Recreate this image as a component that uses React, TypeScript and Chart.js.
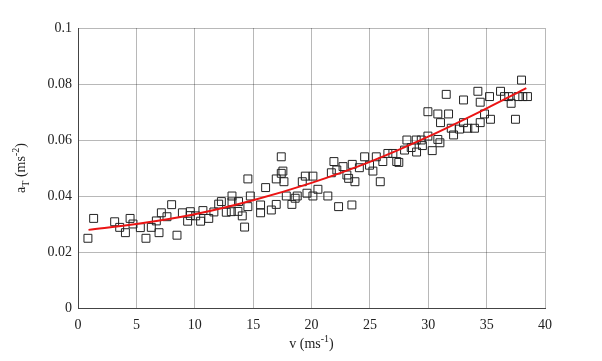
import { useEffect, useRef } from "react";
import { Chart, registerables } from "chart.js";

Chart.register(...registerables);

// Measured speed (ms^-1)
const speed = [
  0.85, 1.34, 3.14, 3.57, 4.06, 4.46, 4.71, 5.34, 5.82, 6.28, 6.71, 6.94, 7.14, 7.62, 8.02, 8.48, 8.94, 9.39,
  9.62, 9.62, 10.08, 10.5, 10.7, 11.2, 11.64, 12.05, 12.28, 12.7, 13.19, 13.19, 13.13,
  13.75, 13.7, 14.07, 14.27, 14.55, 14.55, 14.76, 15.64, 15.64, 16.07, 16.56, 16.98, 16.98, 17.41, 17.41,
  17.55, 17.64, 17.84, 18.32, 18.6, 18.78, 19.21, 19.47, 19.61, 20.12, 20.12, 20.55, 21.4, 21.7, 21.92,
  22.32, 22.17, 22.7, 23.03, 23.18, 23.46, 23.49, 23.72, 24.1, 24.55, 24.97, 25.26, 25.55, 25.89, 26.11,
  26.54, 26.97, 27.3, 27.48, 27.97, 28.17, 28.54, 28.97, 29.0, 29.4, 29.5, 29.97, 29.97, 30.34, 30.82,
  30.82, 31.05, 31.0, 31.54, 31.74, 31.97, 32.17, 32.68, 33.02, 33.02, 33.39, 33.96, 34.25, 34.45, 34.45,
  34.82, 35.25, 35.33, 36.19, 36.53, 36.9, 37.1, 37.47, 37.7, 37.99, 38.1, 38.5,
];

// Measured tangential acceleration (ms^-2)
const accel = [
  0.0249, 0.032, 0.0308, 0.0288, 0.0269, 0.032, 0.03, 0.0287, 0.0249, 0.0288, 0.0311, 0.0269, 0.034, 0.0326,
  0.0369, 0.026, 0.034, 0.031, 0.0344, 0.033, 0.0329, 0.031, 0.0348, 0.032, 0.0343, 0.0371, 0.038, 0.0342,
  0.04, 0.0379, 0.0344,
  0.038, 0.0345, 0.0329, 0.0289, 0.0461, 0.0362, 0.04, 0.0368, 0.034, 0.043, 0.035, 0.037, 0.0461, 0.054,
  0.0481, 0.0489, 0.0451, 0.04, 0.037, 0.0392, 0.04, 0.0451, 0.0471, 0.041, 0.0471, 0.04, 0.0424, 0.04,
  0.0483, 0.0523, 0.0362, 0.0493, 0.0505, 0.0475, 0.0463, 0.0368, 0.0513, 0.0451, 0.0501, 0.054, 0.051,
  0.0489, 0.054, 0.0451, 0.0523, 0.0552, 0.0552, 0.0523, 0.052, 0.0564, 0.06, 0.0573, 0.06, 0.0557, 0.06,
  0.058, 0.0701, 0.0614, 0.0562, 0.0602, 0.0693, 0.0662, 0.059, 0.0763, 0.0693, 0.0642, 0.0618, 0.0639,
  0.0743, 0.0662, 0.0642, 0.0642, 0.0774, 0.0735, 0.0662, 0.0693, 0.0755, 0.0674, 0.0774, 0.0755, 0.0755,
  0.0731, 0.0674, 0.0755, 0.0814, 0.0755, 0.0755,
];

// Fitted curve
const fitSpeed = [0.9, 5, 10, 15, 20, 25, 30, 35, 38.4];
const fitAccel = [0.0279, 0.03, 0.0335, 0.0385, 0.0447, 0.0522, 0.0612, 0.0713, 0.0785];

const xTicks = [0, 5, 10, 15, 20, 25, 30, 35, 40];
const yTicks = [0, 0.02, 0.04, 0.06, 0.08, 0.1];
const yTickLabels = ["0", "0.02", "0.04", "0.06", "0.08", "0.1"];

const FONT = '"Liberation Serif", "Times New Roman", serif';

const titlePlugin = {
  id: "axisTitles",
  afterDraw(chart: any) {
    const ctx = chart.ctx as CanvasRenderingContext2D;
    const area = chart.chartArea;
    ctx.save();
    ctx.fillStyle = "#222";
    ctx.textBaseline = "alphabetic";
    // X title: v (ms^-1)
    const main = `14px ${FONT}`;
    const sup = `10px ${FONT}`;
    const parts: [string, string, number][] = [
      ["v (ms", main, 0],
      ["-1", sup, -6],
      [")", main, 0],
    ];
    let total = 0;
    for (const [t, f] of parts) {
      ctx.font = f;
      total += ctx.measureText(t).width;
    }
    let x = (area.left + area.right) / 2 - total / 2;
    const by = 348;
    for (const [t, f, dy] of parts) {
      ctx.font = f;
      ctx.fillText(t, x, by + dy);
      x += ctx.measureText(t).width;
    }
    // Y title: a_T (ms^-2)
    const yparts: [string, string, number][] = [
      ["a", main, 0],
      ["T", sup, 4],
      [" (ms", main, 0],
      ["-2", sup, -6],
      [")", main, 0],
    ];
    total = 0;
    for (const [t, f] of yparts) {
      ctx.font = f;
      total += ctx.measureText(t).width;
    }
    ctx.translate(25, (area.top + area.bottom) / 2);
    ctx.rotate(-Math.PI / 2);
    x = -total / 2;
    for (const [t, f, dy] of yparts) {
      ctx.font = f;
      ctx.fillText(t, x, dy);
      x += ctx.measureText(t).width;
    }
    ctx.restore();
  },
};

export default function App() {
  const ref = useRef<HTMLCanvasElement | null>(null);

  useEffect(() => {
    document.body.style.margin = "0";
    const canvas = ref.current;
    if (!canvas) return;
    const points = speed.map((v, i) => ({ x: v, y: accel[i] }));
    const fit = fitSpeed.map((v, i) => ({ x: v, y: fitAccel[i] }));
    const chart = new Chart(canvas, {
      type: "scatter",
      data: {
        datasets: [
          {
            type: "line",
            data: fit,
            borderColor: "rgb(235,20,20)",
            borderWidth: 2,
            pointRadius: 0,
            fill: false,
            showLine: true,
            cubicInterpolationMode: "monotone",
          } as any,
          {
            data: points,
            pointStyle: "rect",
            pointRadius: 5.6,
            pointBorderWidth: 1,
            pointBorderColor: "#222",
            pointBackgroundColor: "rgba(0,0,0,0)",
          },
        ],
      },
      options: {
        responsive: false,
        animation: false,
        layout: { padding: { top: 28, right: 57, left: 0, bottom: 0 } },
        plugins: {
          legend: { display: false },
          tooltip: { enabled: false },
        },
        scales: {
          x: {
            type: "linear",
            min: 0,
            max: 40,
            afterBuildTicks: (s: any) => {
              s.ticks = xTicks.map((v) => ({ value: v }));
            },
            afterFit: (s: any) => {
              s.height = 53;
            },
            grid: { color: "rgba(0,0,0,0.28)", drawTicks: false, lineWidth: 1 },
            border: { color: "#444", width: 1 },
            ticks: {
              padding: 9,
              color: "#222",
              font: { family: FONT, size: 14 },
              maxRotation: 0,
              callback: (v: any) => String(v),
            },
          },
          y: {
            type: "linear",
            min: 0,
            max: 0.1,
            afterBuildTicks: (s: any) => {
              s.ticks = yTicks.map((v) => ({ value: v }));
            },
            afterFit: (s: any) => {
              s.width = 78;
            },
            grid: { color: "rgba(0,0,0,0.28)", drawTicks: false, lineWidth: 1 },
            border: { color: "#444", width: 1 },
            ticks: {
              padding: 6,
              color: "#222",
              font: { family: FONT, size: 14 },
              callback: (v: any) => {
                const i = yTicks.findIndex((t) => Math.abs(t - v) < 1e-9);
                return i >= 0 ? yTickLabels[i] : "";
              },
            },
          },
        },
      },
      plugins: [titlePlugin],
    });
    return () => chart.destroy();
  }, []);

  return (
    <div style={{ width: 602, height: 361, background: "#fff" }}>
      <canvas ref={ref} width={602} height={361} style={{ display: "block" }} />
    </div>
  );
}
